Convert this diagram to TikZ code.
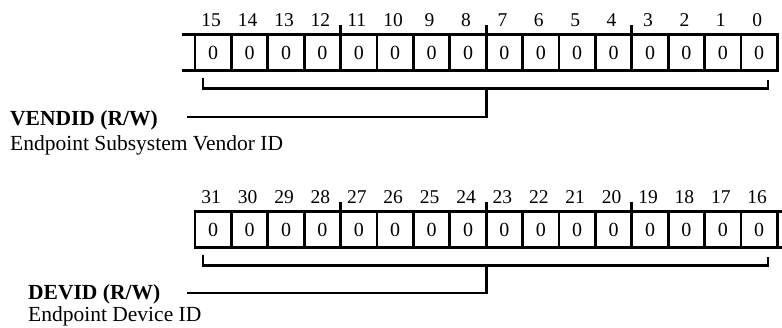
\documentclass[tikz,border=0pt]{standalone}
\usepackage{fontspec}
\setmainfont{Liberation Serif}
\usetikzlibrary{positioning}

\begin{document}
\begin{tikzpicture}[x=1pt,y=-1pt,
  cell/.style={draw,line width=2.8pt,minimum width=36.4pt,minimum height=36.5pt,
    inner sep=0pt,outer sep=0pt,font=\fontsize{20}{22}\selectfont},
  bitnum/.style={inner sep=0pt,font=\fontsize{19.5}{22}\selectfont},
  reg/.style={line width=2.8pt},
  brk/.style={line width=2.6pt},
  fname/.style={inner sep=0pt,anchor=base west,font=\fontsize{21.5}{26}\selectfont\bfseries},
  fdesc/.style={inner sep=0pt,font=\fontsize{21.5}{26}\selectfont}]
\useasboundingbox (0,0) rectangle (782,328);
% bits 15..0
\foreach \b [count=\k from 0] in {15,...,0}{
  \node[cell] (c\b) at (213.2+36.4*\k,52.5) {0};
  \node[bitnum,above=8pt of c\b.north,anchor=base,xshift=-2pt] (n\b) {\b};
}
\draw[reg] (c15.north west) -- ++(-13,0);
\draw[reg] (c15.south west) -- ++(-13,0);
\foreach \b in {11,7,3} \draw[reg] (c\b.north west) -- ++(0,-9);
\coordinate (vbl) at ([xshift=8pt,yshift=-18pt]c15.south west);
\draw[brk] ([yshift=11pt]vbl) -- (vbl) -| ([xshift=-9.4pt,yshift=-9pt]c0.south east);
\node[fname] (vname) at (10,126) {VENDID (R/W)};
\node[fdesc,below=25pt of vname.base west,anchor=base west] (vdesc) {Endpoint Subsystem Vendor ID};
\coordinate (vend) at (187,117);
\draw[brk] (c7.south west |- vbl) |- (vend);
% bits 31..16
\foreach \b [count=\k from 0] in {31,...,16}{
  \node[cell] (c\b) at (213.2+36.4*\k,229.5) {0};
  \node[bitnum,above=8pt of c\b.north,anchor=base,xshift=-2pt] (n\b) {\b};
}
\draw[reg] (c16.north east) -- ++(13,0);
\draw[reg] (c16.south east) -- ++(13,0);
\foreach \b in {27,23,19} \draw[reg] (c\b.north west) -- ++(0,-9);
\coordinate (dbl) at ([xshift=8pt,yshift=-18pt]c31.south west);
\draw[brk] ([yshift=11pt]dbl) -- (dbl) -| ([xshift=-9.4pt,yshift=-9pt]c16.south east);
\node[fname] (dname) at (28,300) {DEVID (R/W)};
\node[fdesc,below=22pt of dname.base west,anchor=base west] (ddesc) {Endpoint Device ID};
\coordinate (dend) at (187,293);
\draw[brk] (c23.south west |- dbl) |- (dend);
\end{tikzpicture}
\end{document}
